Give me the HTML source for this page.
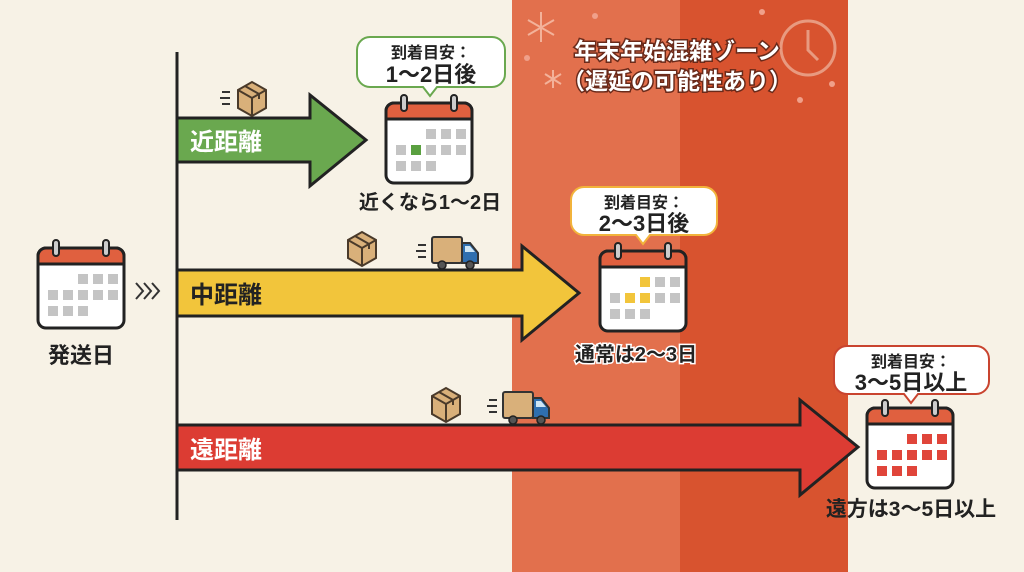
<!DOCTYPE html>
<html><head><meta charset="utf-8"><style>
html,body{margin:0;padding:0;background:#f7f2e6}
svg{display:block}
text{font-family:"Liberation Sans","Noto Sans CJK JP",sans-serif;font-weight:bold}
</style></head><body>
<svg width="1024" height="572" viewBox="0 0 1024 572" xmlns="http://www.w3.org/2000/svg">
<defs>
<g id="cal">
 <rect x="2" y="8" width="86" height="80" rx="8" fill="#fff" stroke="#222" stroke-width="3"/>
 <path d="M2 24 V16 a8 8 0 0 1 8 -8 H80 a8 8 0 0 1 8 8 V24 Z" fill="#e0603f" stroke="#222" stroke-width="3"/>
 <rect x="17" y="0" width="6" height="16" rx="3" fill="#ccc" stroke="#222" stroke-width="2"/>
 <rect x="67" y="0" width="6" height="16" rx="3" fill="#ccc" stroke="#222" stroke-width="2"/>
 <g fill="#c4c4c4">
  <rect x="42" y="34" width="10" height="10"/><rect x="57" y="34" width="10" height="10"/><rect x="72" y="34" width="10" height="10"/>
  <rect x="12" y="50" width="10" height="10"/><rect x="27" y="50" width="10" height="10"/><rect x="42" y="50" width="10" height="10"/><rect x="57" y="50" width="10" height="10"/><rect x="72" y="50" width="10" height="10"/>
  <rect x="12" y="66" width="10" height="10"/><rect x="27" y="66" width="10" height="10"/><rect x="42" y="66" width="10" height="10"/>
 </g>
</g>
<g id="box">
 <path d="M0 8 L14 0 L28 8 L28 26 L14 34 L0 26 Z" fill="#d9b07a" stroke="#4a3a2a" stroke-width="2"/>
 <path d="M0 8 L14 16 L28 8 M14 16 V34 M7 4 L21 12 V17" fill="none" stroke="#4a3a2a" stroke-width="2"/>
</g>
<g id="truck">
 <path d="M-14 8 h8 M-16 14 h10 M-14 20 h8" stroke="#333" stroke-width="2"/>
 <rect x="0" y="0" width="30" height="26" rx="2" fill="#d9b07a" stroke="#333" stroke-width="2"/>
 <path d="M30 6 h8 l8 10 v10 h-16 Z" fill="#2f6fb0" stroke="#333" stroke-width="2"/>
 <path d="M33 9 h5 l5 6 h-10 Z" fill="#cfe6f5"/>
 <circle cx="10" cy="28" r="4" fill="#555" stroke="#222" stroke-width="1.5"/>
 <circle cx="38" cy="28" r="4" fill="#555" stroke="#222" stroke-width="1.5"/>
</g>
</defs>

<rect x="0" y="0" width="1024" height="572" fill="#f7f2e6"/>
<rect x="512" y="0" width="168" height="572" fill="#e2704d"/>
<rect x="680" y="0" width="168" height="572" fill="#d8532f"/>

<g stroke="#f3b29a" stroke-width="2" fill="none">
 <path d="M541 12 v30 M528 20 l26 15 M528 35 l26 -15"/>
 <path d="M553 70 v18 M545 74 l16 10 M545 84 l16 -10"/>
 <circle cx="808" cy="48" r="27" stroke="#e89a80" stroke-width="3"/>
 <path d="M808 30 v20 l10 10" stroke="#e89a80" stroke-width="3"/>
</g>
<g fill="#f0a08a"><circle cx="595" cy="16" r="3"/><circle cx="527" cy="58" r="3"/><circle cx="762" cy="12" r="3"/><circle cx="832" cy="84" r="3"/><circle cx="800" cy="100" r="3"/></g>
<g font-size="23" text-anchor="middle" fill="#fff" stroke="#6a2a1a" stroke-width="3" paint-order="stroke">
 <text x="677" y="59">年末年始混雑ゾーン</text>
 <text x="677" y="89">（遅延の可能性あり）</text>
</g>

<line x1="177" y1="52" x2="177" y2="520" stroke="#222" stroke-width="3"/>

<path d="M177 118 H310 V95 L366 140 L310 186 V162 H177 Z" fill="#6aa84f" stroke="#222" stroke-width="3"/>
<path d="M177 270 H522 V246 L579 293 L522 340 V316 H177 Z" fill="#f2c53b" stroke="#222" stroke-width="3"/>
<path d="M177 425 H800 V400 L858 447 L800 495 V470 H177 Z" fill="#dc3c33" stroke="#222" stroke-width="3"/>
<text x="190" y="150" font-size="24" fill="#fff">近距離</text>
<text x="190" y="303" font-size="24" fill="#222">中距離</text>
<text x="190" y="458" font-size="24" fill="#fff">遠距離</text>

<path d="M222 92 h8 M220 98 h10 M222 104 h8" stroke="#333" stroke-width="2"/>
<use href="#box" x="238" y="82"/>
<use href="#box" x="348" y="232"/>
<use href="#truck" x="432" y="237"/>
<use href="#box" x="432" y="388"/>
<use href="#truck" x="503" y="392"/>

<use href="#cal" x="36" y="240"/>
<path d="M136 283 l7 8 l-7 8 M144 283 l7 8 l-7 8 M152 283 l7 8 l-7 8" fill="none" stroke="#333" stroke-width="2"/>
<text x="81" y="363" font-size="22" fill="#222" text-anchor="middle">発送日</text>

<path d="M370 37 H492 a13 13 0 0 1 13 13 V74 a13 13 0 0 1 -13 13 H437 L430 96 L423 87 H370 a13 13 0 0 1 -13 -13 V50 a13 13 0 0 1 13 -13 Z" fill="#fff" stroke="#6aa84f" stroke-width="2"/>
<text x="431" y="58" font-size="16" text-anchor="middle" fill="#222">到着目安：</text>
<text x="431" y="82" font-size="22" text-anchor="middle" fill="#222">1〜2日後</text>
<use href="#cal" x="384" y="95"/>
<rect x="411" y="145" width="10" height="10" fill="#5aa040"/>
<text x="430" y="209" font-size="20" text-anchor="middle" fill="#222">近くなら1〜2日</text>

<path d="M584 187 H704 a13 13 0 0 1 13 13 V222 a13 13 0 0 1 -13 13 H650 L643 244 L636 235 H584 a13 13 0 0 1 -13 -13 V200 a13 13 0 0 1 13 -13 Z" fill="#fff" stroke="#f2b33b" stroke-width="2"/>
<text x="644" y="208" font-size="16" text-anchor="middle" fill="#222">到着目安：</text>
<text x="644" y="231" font-size="22" text-anchor="middle" fill="#222">2〜3日後</text>
<use href="#cal" x="598" y="243"/>
<g fill="#f2c53b"><rect x="640" y="277" width="10" height="10"/><rect x="625" y="293" width="10" height="10"/><rect x="640" y="293" width="10" height="10"/></g>
<text x="636" y="361" font-size="20" text-anchor="middle" fill="#222" stroke="#fff" stroke-width="3" paint-order="stroke">通常は2〜3日</text>

<path d="M847 346 H976 a13 13 0 0 1 13 13 V381 a13 13 0 0 1 -13 13 H918 L911 403 L904 394 H847 a13 13 0 0 1 -13 -13 V359 a13 13 0 0 1 13 -13 Z" fill="#fff" stroke="#c9442f" stroke-width="2"/>
<text x="911" y="367" font-size="16" text-anchor="middle" fill="#222">到着目安：</text>
<text x="911" y="390" font-size="22" text-anchor="middle" fill="#222">3〜5日以上</text>
<use href="#cal" x="865" y="400"/>
<g fill="#e0453a">
 <rect x="907" y="434" width="10" height="10"/><rect x="922" y="434" width="10" height="10"/><rect x="937" y="434" width="10" height="10"/>
 <rect x="877" y="450" width="10" height="10"/><rect x="892" y="450" width="10" height="10"/><rect x="907" y="450" width="10" height="10"/><rect x="922" y="450" width="10" height="10"/><rect x="937" y="450" width="10" height="10"/>
 <rect x="877" y="466" width="10" height="10"/><rect x="892" y="466" width="10" height="10"/><rect x="907" y="466" width="10" height="10"/>
</g>
<text x="911" y="516" font-size="21" text-anchor="middle" fill="#222">遠方は3〜5日以上</text>
</svg>
</body></html>
